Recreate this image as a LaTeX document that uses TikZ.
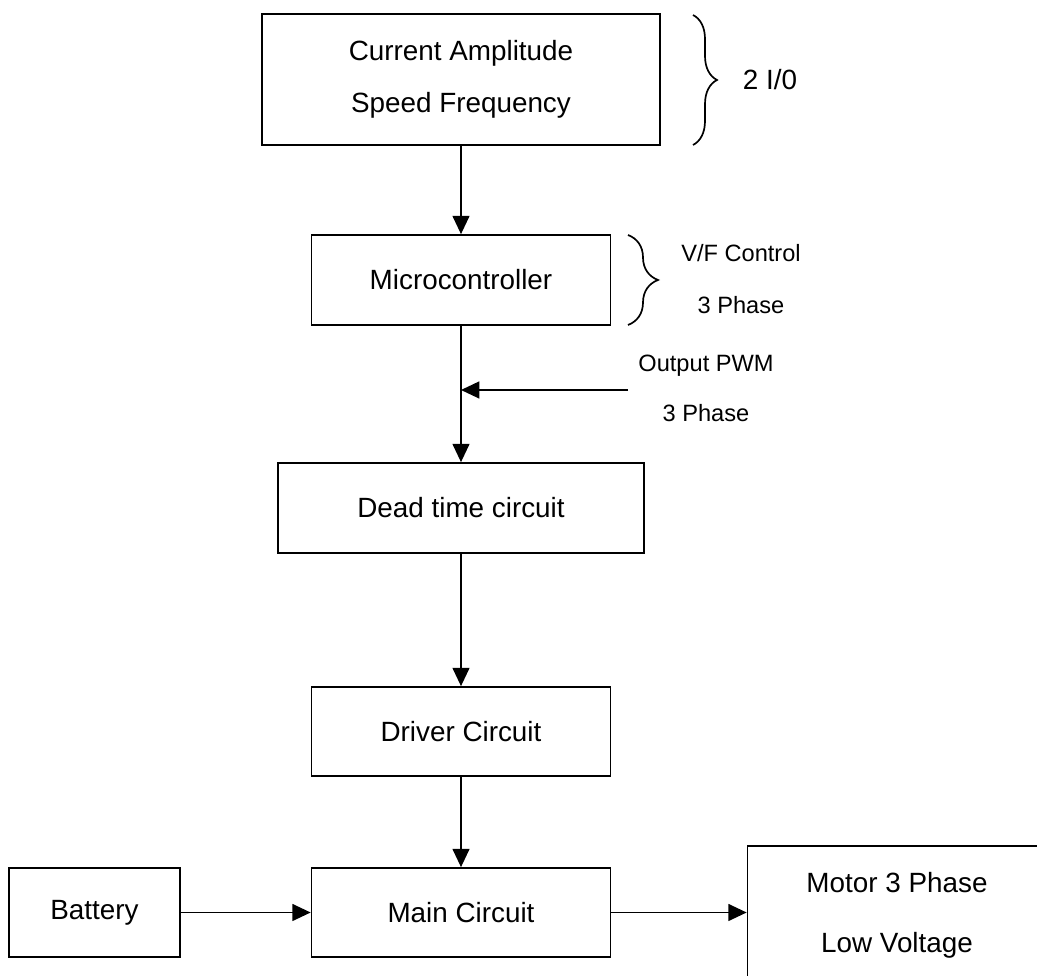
\documentclass[tikz,border=0pt]{standalone}
\usepackage{fontspec}
\setmainfont{Liberation Sans}
\usetikzlibrary{positioning, arrows.meta, decorations.pathreplacing}

\begin{document}
\begin{tikzpicture}[font=\fontsize{19.8}{37}\selectfont,
    blk/.style={draw, line width=1.2pt, minimum width=7.475cm, minimum height=2.25cm,
                align=center, inner sep=0pt},
    side/.style={font=\fontsize{16.8}{37}\selectfont, align=center},
    arr/.style={line width=1.2pt, -{Triangle[length=13pt, width=12pt]}},
    brc/.style={line width=1.2pt, decorate, decoration={brace, amplitude=#1}},
    brc/.default=0.6cm]
    \useasboundingbox (0,0) rectangle (25.925,24.4);
    \clip (0,0) rectangle (25.925,24.4);
    % main chain
    \node[blk, minimum width=9.95cm, minimum height=3.275cm] (inp) at (11.525,22.4125) {Current Amplitude\\Speed Frequency};
    \node[blk] (mcu) at (11.525,17.4) {Microcontroller};
    \node[blk, minimum width=9.15cm] (dead) at (11.525,11.7) {Dead time circuit};
    \node[blk, minimum height=2.225cm] (drv) at (11.525,6.1125) {Driver Circuit};
    \node[blk, minimum height=2.225cm] (main) at (11.525,1.5875) {Main Circuit};
    \node[blk, minimum width=4.275cm, minimum height=2.225cm] (bat) at (2.3625,1.5875) {Battery};
    \node[blk, minimum height=3.45cm, font=\fontsize{19.8}{42.7}\selectfont] (mot) at (22.425,1.525) {Motor 3 Phase\\Low Voltage};
    \draw[arr] (inp) -- (mcu);
    \draw[arr] (mcu) -- (dead);
    \draw[arr] (dead) -- (drv);
    \draw[arr] (drv) -- (main);
    \draw[arr] (bat) -- (main);
    \draw[arr] (main.east) -- (main.east -| mot.west);
    % side notes
    \coordinate (pwm) at (15.7,14.65);
    \draw[arr] (pwm) -- (pwm -| mcu.south);
    \node[side, font=\fontsize{16.8}{35.6}\selectfont] (out) at (17.65,14.7) {Output PWM\\3 Phase};
    \node[side] (vf) at (18.525,17.425) {V/F Control\\3 Phase};
    \node (io) at (19.25,22.4) {2 I/0};
    \draw[brc] (17.325,24.025) -- (17.325,20.775);
    \draw[brc=0.75cm] (15.7,18.525) -- (15.7,16.275);
\end{tikzpicture}
\end{document}
